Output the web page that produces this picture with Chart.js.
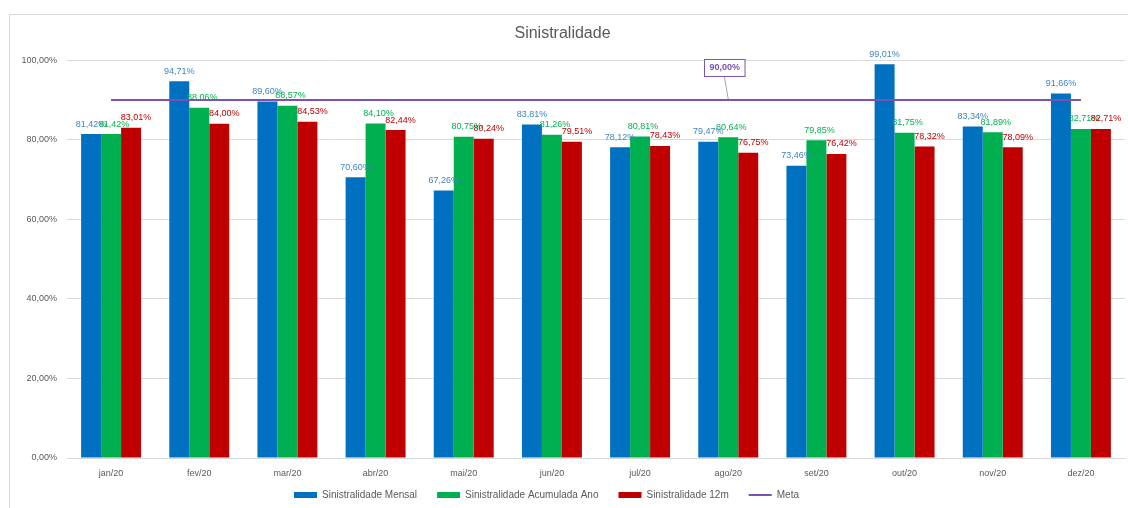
<!DOCTYPE html>
<html>
<head>
<meta charset="utf-8">
<script src="https://cdn.jsdelivr.net/npm/chart.js@4.4.1/dist/chart.umd.min.js"></script>
<style>
  html, body { margin: 0; padding: 0; background: #fff; }
  #quadro { position: absolute; left: 9px; top: 14px; width: 1130px; height: 510px; border: 1px solid #d9d9d9; }
  #wrap { position: absolute; left: 0; top: 0; width: 1128px; height: 508px; }
</style>
</head>
<body>
<div id="quadro"></div>
<div id="wrap"><canvas id="grafico"></canvas></div>
<script>
const meses = ['jan/20', 'fev/20', 'mar/20', 'abr/20', 'mai/20', 'jun/20', 'jul/20', 'ago/20', 'set/20', 'out/20', 'nov/20', 'dez/20'];
const mensal = [81.42, 94.71, 89.60, 70.60, 67.26, 83.81, 78.12, 79.47, 73.46, 99.01, 83.34, 91.66];
const acumulada = [81.42, 88.06, 88.57, 84.10, 80.75, 81.26, 80.81, 80.64, 79.85, 81.75, 81.89, 82.71];
const doze = [83.01, 84.00, 84.53, 82.44, 80.24, 79.51, 78.43, 76.75, 76.42, 78.32, 78.09, 82.71];
const meta = [90, 90, 90, 90, 90, 90, 90, 90, 90, 90, 90, 90];
const metaRotulo = 7; // ponto onde aparece a caixa "90,00%"

const fonte = 'Liberation Sans, Arial, sans-serif';
const pct = v => v.toFixed(2).replace('.', ',') + '%';

const corRotulo = ['#3d85c6', '#00b050', '#c00000'];
const desloc = [0, 3, 5];

const rotulos = {
    id: 'rotulos',
    afterInit(chart) {
        // legenda mais compacta, desenhada um pouco acima e à esquerda
        const lg = chart.legend;
        const fit = lg.fit;
        lg.fit = function () {
            fit.call(this);
            this.height = 26;
            if (this.lineWidths) this.lineWidths[0] += 32;
        };
        const draw = lg._draw;
        lg._draw = function () {
            this.ctx.save();
            this.ctx.translate(0, -12);
            draw.call(this);
            this.ctx.restore();
        };
    },
    afterDatasetsDraw(chart) {
        const ctx = chart.ctx;
        ctx.save();
        ctx.font = '9px ' + fonte;
        ctx.textAlign = 'center';
        ctx.textBaseline = 'middle';
        for (let d = 0; d < 3; d++) {
            const m = chart.getDatasetMeta(d);
            m.data.forEach((bar, i) => {
                ctx.fillStyle = corRotulo[d];
                ctx.fillText(pct(chart.data.datasets[d].data[i]), bar.x + desloc[d], bar.y - 10);
            });
        }
        // caixa da meta
        const pm = chart.getDatasetMeta(3).data[metaRotulo];
        const txt = pct(meta[metaRotulo]);
        ctx.font = 'bold 9px ' + fonte;
        const w = ctx.measureText(txt).width + 10;
        const h = 17;
        const bx = pm.x - 4 - w / 2, by = pm.y - 41;
        ctx.strokeStyle = '#a6a6a6';
        ctx.lineWidth = 1;
        ctx.beginPath();
        ctx.moveTo(pm.x - 4, by + h);
        ctx.lineTo(pm.x, pm.y - 1);
        ctx.stroke();
        ctx.fillStyle = '#fff';
        ctx.fillRect(bx, by, w, h);
        ctx.strokeStyle = '#7b52ae';
        ctx.strokeRect(bx + 0.5, by + 0.5, w, h);
        ctx.fillStyle = '#7b52ae';
        ctx.fillText(txt, pm.x - 4 + 0.5, by + h / 2 + 0.5);
        ctx.restore();
    }
};

const ctx = document.getElementById('grafico').getContext('2d');

let grafico = new Chart(ctx, {
    type: 'bar',
    data: {
        labels: meses,
        datasets: [
            {
                label: 'Sinistralidade Mensal',
                backgroundColor: '#0070c0',
                data: mensal,
                order: 1
            },
            {
                label: 'Sinistralidade Acumulada Ano',
                backgroundColor: '#00b050',
                data: acumulada,
                order: 1
            },
            {
                label: 'Sinistralidade 12m',
                backgroundColor: '#c00000',
                data: doze,
                order: 1
            },
            {
                type: 'line',
                label: 'Meta',
                borderColor: '#7b52ae',
                backgroundColor: '#7b52ae',
                borderWidth: 2,
                pointRadius: 0,
                data: meta,
                fill: false,
                order: 0
            }
        ]
    },
    options: {
        responsive: true,
        maintainAspectRatio: false,
        animation: false,
        categoryPercentage: 0.68,
        barPercentage: 1,
        layout: { padding: { left: 0, right: 3, top: 0, bottom: 0 } },
        plugins: {
            title: {
                display: true,
                text: 'Sinistralidade',
                color: '#595959',
                font: { family: fonte, size: 16, weight: 'normal' },
                padding: { top: 24, bottom: 17 }
            },
            legend: {
                position: 'bottom',
                labels: {
                    usePointStyle: true,
                    pointStyleWidth: 23,
                    boxWidth: 23,
                    boxHeight: 6,
                    padding: 20,
                    color: '#595959',
                    font: { family: fonte, size: 10 },
                    sort: (a, b) => a.datasetIndex - b.datasetIndex,
                    generateLabels(chart) {
                        const itens = Chart.defaults.plugins.legend.labels.generateLabels(chart);
                        itens.forEach(it => {
                            it.pointStyle = it.datasetIndex === 3 ? 'line' : 'rect';
                            if (it.datasetIndex !== 3) it.lineWidth = 0;
                        });
                        return itens;
                    }
                }
            },
            tooltip: { enabled: false }
        },
        scales: {
            x: {
                grid: { display: false, drawTicks: false },
                border: { color: '#d9d9d9' },
                ticks: { color: '#595959', font: { family: fonte, size: 9 }, padding: 10 },
                afterFit(s) { s.height = 24; }
            },
            y: {
                min: 0,
                max: 100,
                grid: { color: '#d9d9d9', drawTicks: false },
                border: { display: false },
                ticks: { stepSize: 20, color: '#595959', font: { family: fonte, size: 9 }, padding: 10, callback: v => pct(v) },
                afterFit(s) { s.width = 67; }
            }
        }
    },
    plugins: [rotulos]
});
</script>
</body>
</html>
